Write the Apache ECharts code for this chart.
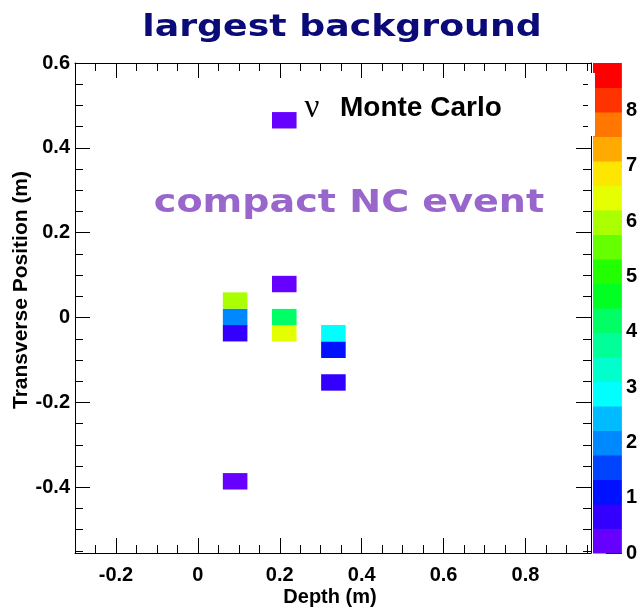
<!DOCTYPE html>
<html>
<head>
<meta charset="utf-8">
<title>largest background</title>
<script src="https://cdn.jsdelivr.net/npm/echarts@6.0.0/dist/echarts.min.js"></script>
<style>
  html, body { margin: 0; padding: 0; background: #fff; }
  #chart { width: 640px; height: 610px; }
</style>
</head>
<body>
<div id="chart"></div>
<script>
  // hit cells
  var cellDepth = [0.091, 0.091, 0.091, 0.091, 0.211, 0.211, 0.211, 0.211, 0.331, 0.331, 0.331]
  var cellTrans = [0.040, 0.001, -0.037, -0.386, 0.465, 0.079, 0.001, -0.037, -0.037, -0.076, -0.153]
  var cellValue = [6.0, 2.0, 0.7, 0.3, 0.3, 0.3, 4.2, 6.4, 2.9, 1.1, 0.7]
  // bin size of one cell (m)
  var binDepth = 0.06
  var binTrans = 0.0387

  // tick labels
  var xTicks = [-0.2, 0, 0.2, 0.4, 0.6, 0.8]
  var yTicks = [-0.4, -0.2, 0, 0.2, 0.4, 0.6]
  var zTicks = [0, 1, 2, 3, 4, 5, 6, 7, 8]

  // colour scale, 20 contour levels from bottom to top
  var zMax = 8.86
  var palette = ['#6600ff', '#3300ff', '#0011ff', '#0044ff', '#0088ff', '#00bbff', '#00ffff', '#00ffcc', '#00ff99', '#00ff66',
                 '#00ff22', '#22ff00', '#66ff00', '#aaff00', '#e6ff00', '#ffe600', '#ffaa00', '#ff7700', '#ff3300', '#ff0000']

  var xRange = [-0.3, 0.96]
  var yRange = [-0.555, 0.6]

  var font = 'Liberation Sans, Arial, sans-serif'

  //contour pieces for the visual map and the colour bar
  var step = zMax / palette.length
  var pieces = [], levels = []
  for (var i = 0; i < palette.length; i++) {
    var lo = i * step, hi = (i + 1) * step
    pieces.push(i === palette.length - 1 ? { gte: lo, lte: hi, color: palette[i] } : { gte: lo, lt: hi, color: palette[i] })
    levels.push([lo, hi, lo + step / 2])
  }

  function minorValues(range) {
    var out = []
    var start = Math.ceil(range[0] / 0.05 - 1e-6)
    for (var k = start; k * 0.05 <= range[1] + 1e-9; k++) out.push(Math.round(k * 5) / 100)
    return out
  }

  // one axis that only draws ticks (and optionally labels)
  function tickAxis(pos, range, ticks, len, withLabels, withLine) {
    return {
      type: 'value',
      gridIndex: 0,
      position: pos,
      min: range[0],
      max: range[1],
      axisLine: { show: withLine, onZero: false, lineStyle: { color: '#000', width: 1 } },
      axisTick: { show: true, inside: true, length: len, customValues: ticks, lineStyle: { color: '#000', width: 1 } },
      axisLabel: {
        show: withLabels,
        customValues: ticks,
        margin: pos === 'bottom' ? 12 : 5,
        color: '#000',
        fontFamily: font,
        fontWeight: 'bold',
        fontSize: 20
      },
      splitLine: { show: false }
    }
  }

  var chart = echarts.init(document.getElementById('chart'), null, { renderer: 'canvas' })

  var option = {
    animation: false,
    backgroundColor: '#fff',
    grid: [
      { left: 75, right: 49, top: 63, bottom: 57 },
      { left: 593, right: 17, top: 63, bottom: 57 }
    ],
    xAxis: [
      tickAxis('bottom', xRange, xTicks, 15, true, true),
      tickAxis('bottom', xRange, minorValues(xRange), 8, false, false),
      tickAxis('top', xRange, xTicks, 15, false, true),
      tickAxis('top', xRange, minorValues(xRange), 8, false, false),
      { type: 'value', gridIndex: 1, min: 0, max: 1, show: false }
    ],
    yAxis: [
      tickAxis('left', yRange, yTicks, 15, true, true),
      tickAxis('left', yRange, minorValues(yRange), 8, false, false),
      tickAxis('right', yRange, yTicks, 15, false, true),
      tickAxis('right', yRange, minorValues(yRange), 8, false, false),
      {
        type: 'value',
        gridIndex: 1,
        position: 'right',
        min: 0,
        max: zMax,
        axisLine: { show: false, onZero: false },
        axisTick: { show: true, inside: true, length: 16, customValues: zTicks, lineStyle: { color: '#000', width: 1 } },
        axisLabel: { customValues: zTicks, margin: 4, color: '#000', fontFamily: font, fontWeight: 'bold', fontSize: 20 },
        splitLine: { show: false }
      }
    ],
    visualMap: {
      type: 'piecewise',
      show: false,
      dimension: 2,
      seriesIndex: [0, 1],
      pieces: pieces
    },
    series: [
      {
        type: 'custom',
        name: 'cells',
        xAxisIndex: 0,
        yAxisIndex: 0,
        data: cellDepth.map(function (d, i) { return [d, cellTrans[i], cellValue[i]] }),
        renderItem: function (params, api) {
          var p0 = api.coord([api.value(0) - binDepth / 2, api.value(1) + binTrans / 2])
          var p1 = api.coord([api.value(0) + binDepth / 2, api.value(1) - binTrans / 2])
          return {
            type: 'rect',
            shape: { x: p0[0], y: p0[1], width: p1[0] - p0[0], height: p1[1] - p0[1] },
            style: { fill: api.visual('color') }
          }
        }
      },
      {
        type: 'custom',
        name: 'palette',
        xAxisIndex: 4,
        yAxisIndex: 4,
        data: levels,
        renderItem: function (params, api) {
          var p0 = api.coord([0, api.value(1)])
          var p1 = api.coord([1, api.value(0)])
          return {
            type: 'rect',
            shape: { x: p0[0], y: p0[1], width: p1[0] - p0[0], height: p1[1] - p0[1] + 0.5 },
            style: { fill: api.visual('color') }
          }
        }
      }
    ],
    graphic: [
      {
        type: 'text', x: 342, y: 28, scaleX: 1.17, z: 10,
        style: { text: 'largest background', fill: '#0a0a78', font: 'bold 31px DejaVu Sans', align: 'center', verticalAlign: 'middle' }
      },
      {
        type: 'text', x: 349, y: 204, scaleX: 1.19, z: 10,
        style: { text: 'compact NC event', fill: '#9966cc', font: 'bold 32px DejaVu Sans', align: 'center', verticalAlign: 'middle' }
      },
      {
        type: 'text', x: 312, y: 108, z: 10,
        style: { text: 'ν', fill: '#000', font: '33px Liberation Serif', align: 'center', verticalAlign: 'middle' }
      },
      {
        type: 'text', x: 340, y: 108, z: 10,
        style: { text: 'Monte Carlo', fill: '#000', font: 'bold 28px Liberation Sans', align: 'left', verticalAlign: 'middle' }
      },
      {
        type: 'text', x: 330, y: 597, z: 10,
        style: { text: 'Depth (m)', fill: '#000', font: 'bold 20px Liberation Sans', align: 'center', verticalAlign: 'middle' }
      },
      {
        type: 'text', x: 21, y: 290, rotation: Math.PI / 2, z: 10,
        style: { text: 'Transverse Position (m)', fill: '#000', font: 'bold 21px Liberation Sans', align: 'center', verticalAlign: 'middle' }
      },
      //white patch over the frame next to the palette top
      {
        type: 'rect', z: 20,
        shape: { x: 588, y: 73, width: 7, height: 63 },
        style: { fill: '#fff' }
      }
    ]
  }

  chart.setOption(option)
</script>
</body>
</html>
